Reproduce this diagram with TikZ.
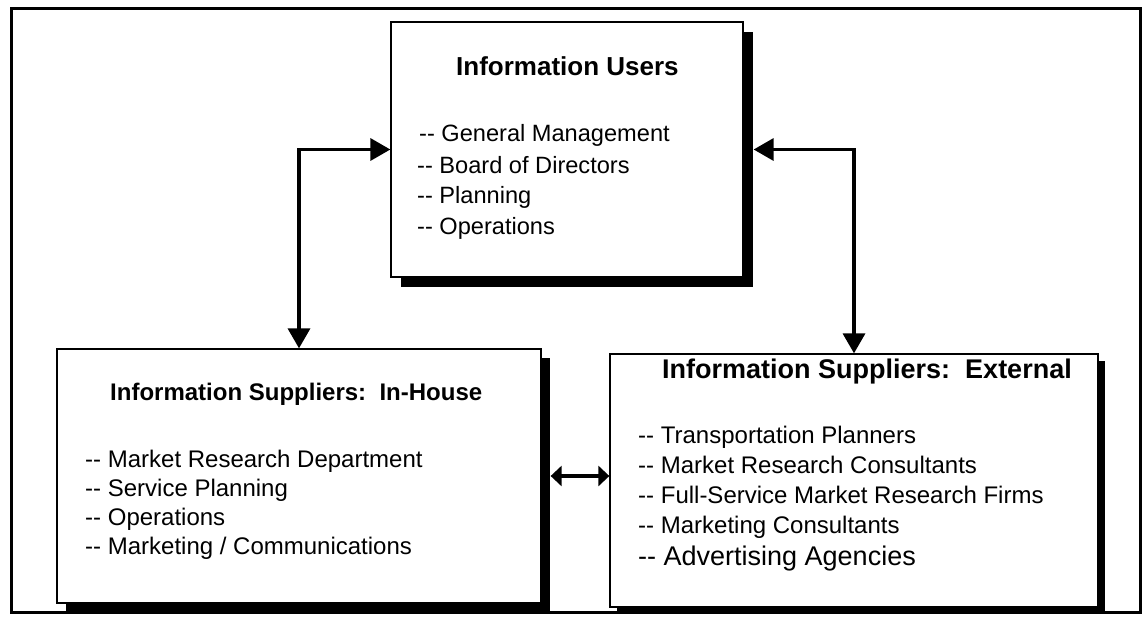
\documentclass[tikz,border=0pt]{standalone}
\usepackage{fontspec}
\setmainfont{Liberation Sans}[Ligatures=NoCommon]
\usetikzlibrary{arrows.meta,shadows}
% a double hyphen that is not joined into a dash
\newcommand{\dd}{-{}-}
\begin{document}
\begin{tikzpicture}[x=1pt,y=-1pt,
  panel/.style={draw, line width=1.3pt, fill=white, inner sep=0pt,
    drop shadow={shadow xshift=#1pt, shadow yshift=-#1pt, fill=black, opacity=1}},
  ttl/.style={anchor=base west, inner sep=0pt, font=\bfseries\fontsize{#1}{#1}\selectfont},
  itm/.style={anchor=base west, inner sep=0pt, font=\fontsize{#1}{#1}\selectfont},
  conn/.style={line width=3.5pt, arrows={Triangle[length=20pt,width=22pt]-Triangle[length=20pt,width=22pt]}},
  shortconn/.style={line width=3.5pt, arrows={Triangle[length=11pt,width=20pt]-Triangle[length=11pt,width=20pt]}}]
\useasboundingbox (0,0) rectangle (1143,616);
% outer frame
\draw[line width=3pt] (11,8) rectangle (1140,612);

% the three panels
\node[panel=10, minimum width=352pt, minimum height=255pt] (users) at (567,149.5) {};
\node[panel=9, minimum width=484pt, minimum height=254pt] (ib) at (299,476) {};
\node[panel=7, minimum width=488pt, minimum height=253pt] (eb) at (854,480.5) {};

% users panel text
\node[ttl=26] (users-t) at (456,75) {Information Users};
\node[itm=23.6] (users-1) at (419,141) {\dd\ General Management};
\node[itm=23.6] (users-2) at (417,173) {\dd\ Board of Directors};
\node[itm=23.6] (users-3) at (417,203) {\dd\ Planning};
\node[itm=23.6] (users-4) at (417,234) {\dd\ Operations};

% in-house panel text
\node[ttl=24] (ib-t) at (110,400) {Information Suppliers:\ \ In-House};
\node[itm=24] (ib-1) at (85,467) {\dd\ Market Research Department};
\node[itm=24] (ib-2) at (85,496) {\dd\ Service Planning};
\node[itm=24] (ib-3) at (85,525) {\dd\ Operations};
\node[itm=24] (ib-4) at (85,554) {\dd\ Marketing / Communications};

% external panel text
\node[ttl=27] (eb-t) at (662,378) {Information Suppliers:\ \ External};
\node[itm=24] (eb-1) at (638,443) {\dd\ Transportation Planners};
\node[itm=24] (eb-2) at (638,473) {\dd\ Market Research Consultants};
\node[itm=24] (eb-3) at (638,503) {\dd\ Full-Service Market Research Firms};
\node[itm=24] (eb-4) at (638,533) {\dd\ Marketing Consultants};
\node[itm=27] (eb-5) at (638,565) {\dd\ Advertising Agencies};

% connectors
\draw[conn] (ib.north) |- (users.west);
\draw[conn] ([xshift=10pt]users.east) -| (eb.north);
\draw[shortconn] ([xshift=9pt]ib.east) -- (eb.west |- ib.east);
\end{tikzpicture}
\end{document}
